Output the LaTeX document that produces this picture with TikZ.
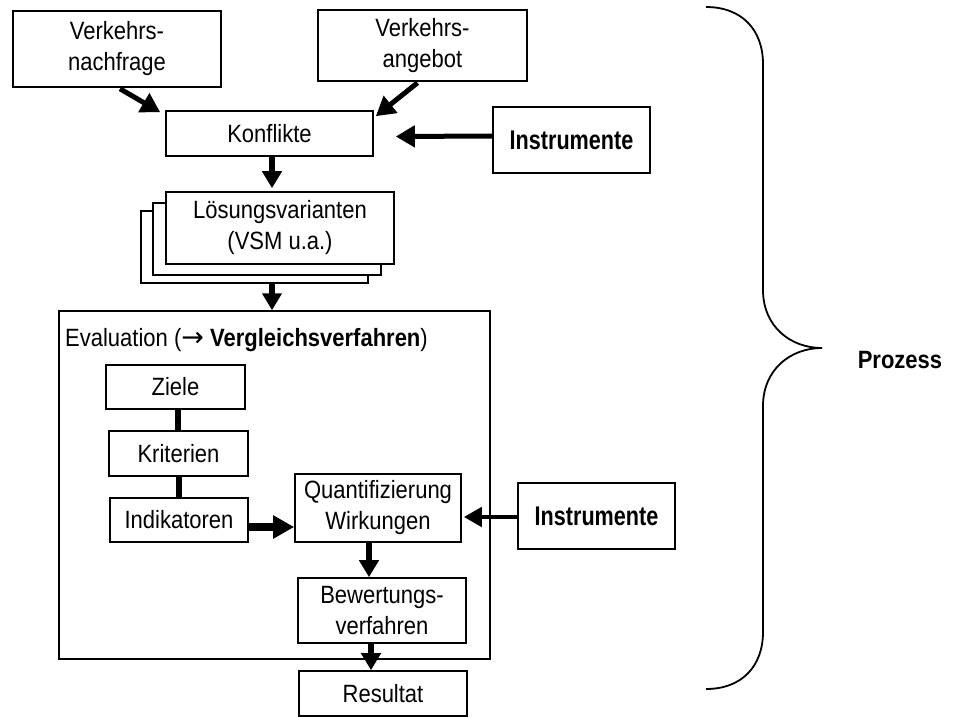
\documentclass[tikz,border=0pt]{standalone}
\usepackage{fontspec}
\setmainfont{Liberation Sans}[FakeStretch=0.88]
\newfontfamily\instrfont{Liberation Sans}[FakeStretch=0.8]
\newfontfamily\arrowfont{DejaVu Sans}
\usetikzlibrary{arrows.meta,calc}
\begin{document}
\begin{tikzpicture}[x=1pt,y=-1pt,
  txt/.style={font=\fontsize{25}{31}\selectfont},
  box/.style={txt,draw,line width=1.6pt,fill=white,inner sep=0pt,align=center},
  boldbox/.style={box,font=\instrfont\bfseries\fontsize{27}{31}\selectfont},
  frame/.style={draw,line width=1.5pt,inner sep=0pt},
  arr/.style={line width=5pt,-{Triangle[length=19pt,width=21pt]}},
  downarr/.style={line width=6pt,-{Triangle[length=17pt,width=19pt]}},
  fatarr/.style={line width=8pt,-{Triangle[length=21pt,width=22pt]}},
  thinarr/.style={line width=4.5pt,-{Triangle[length=18pt,width=19pt]}},
  link/.style={line width=6pt},
  bracepath/.style={line width=1.8pt}
]
\useasboundingbox (0,0) rectangle (958,717);

% inputs
\node[box,minimum width=208pt,minimum height=76pt] (nach) at (117,49) {Verkehrs-\\nachfrage};
\node[box,minimum width=209pt,minimum height=71pt] (ang) at (422.5,45.5) {Verkehrs-\\angebot};
\node[box,minimum width=207pt,minimum height=45pt] (konf) at (269.5,133.5) {Konflikte};
\node[boldbox,minimum width=157pt,minimum height=66pt] (instrA) at (571.5,140) {Instrumente};

\draw[arr] ($(nach.south)+(3,1)$) -- ($(konf.north west)+(-5,2)$);
\draw[arr] ($(ang.south)+(-5,1)$) -- ($(konf.north east)+(2,6)$);
\draw[arr] ($(instrA.west)+(0,-4)$) -- ($(konf.east)+(22,3)$);

% stacked solution variants (cards behind the front one)
\node[box,minimum width=227pt,minimum height=72pt] (loesC) at (254.5,247) {};
\node[box,minimum width=228pt,minimum height=72pt] (loesB) at (267,239) {};
\node[box,minimum width=228pt,minimum height=72pt] (loesA) at (280,228) {Lösungsvarianten\\(VSM u.a.)};

\draw[downarr] ($(konf.south)+(2.5,0)$) -- ($(loesA.north)+(-8,-3)$);

% evaluation frame
\node[frame,minimum width=431pt,minimum height=348pt] (eval) at (274.5,485) {};
\node[txt,anchor=west,inner sep=0pt] (evtitle) at (65,340) {Evaluation ({\arrowfont\fontsize{27}{31}\selectfont →} \textbf{Vergleichsverfahren})};
\draw[downarr] ($(loesC.south)+(17.5,0)$) coordinate (ea) -- (ea |- eval.north);

\node[box,minimum width=139pt,minimum height=44pt] (ziele) at (175.5,387) {Ziele};
\node[box,minimum width=139pt,minimum height=45pt] (krit) at (178.5,453.5) {Kriterien};
\node[box,minimum width=138pt,minimum height=44pt] (ind) at (179,520) {Indikatoren};
\node[box,minimum width=166pt,minimum height=68pt] (quant) at (378,508) {Quantifizierung\\Wirkungen};
\node[boldbox,minimum width=157pt,minimum height=66pt] (instrB) at (596.5,516) {Instrumente};
\node[box,minimum width=168pt,minimum height=65pt] (bew) at (382,610.5) {Bewertungs-\\verfahren};
\node[box,minimum width=168pt,minimum height=45pt] (res) at (383,693.5) {Resultat};

\draw[link] ($(ziele.south)+(2.5,0)$) -- ($(krit.north)+(-0.5,0)$);
\draw[link] (krit.south) -- ($(ind.north)+(-0.5,0)$);
\draw[fatarr] ($(ind.east)+(0,7)$) coordinate (ia) -- (ia -| quant.west);
\draw[thinarr] ($(instrB.west)+(0,1)$) coordinate (qa) -- ($(qa -| quant.east)+(2,0)$);
\draw[downarr] ($(quant.south)+(-9,0)$) coordinate (qb) -- (qb |- bew.north);
\draw[downarr] ($(bew.south)+(-11,0)$) coordinate (rb) -- (rb |- res.north);

% process brace
\coordinate (btop) at (706,7);
\coordinate (btip) at (822,348);
\coordinate (bbot) at (706,689);
\draw[bracepath] (btop) .. controls (742,7) and (763,30) .. (763,64)
  -- (763,290) .. controls (763,326) and (790,348) .. (btip)
  .. controls (790,348) and (763,370) .. (763,406)
  -- (763,632) .. controls (763,666) and (742,689) .. (bbot);
\node[font=\bfseries\fontsize{25}{28}\selectfont] (proz) at (900,360) {Prozess};
\end{tikzpicture}
\end{document}
